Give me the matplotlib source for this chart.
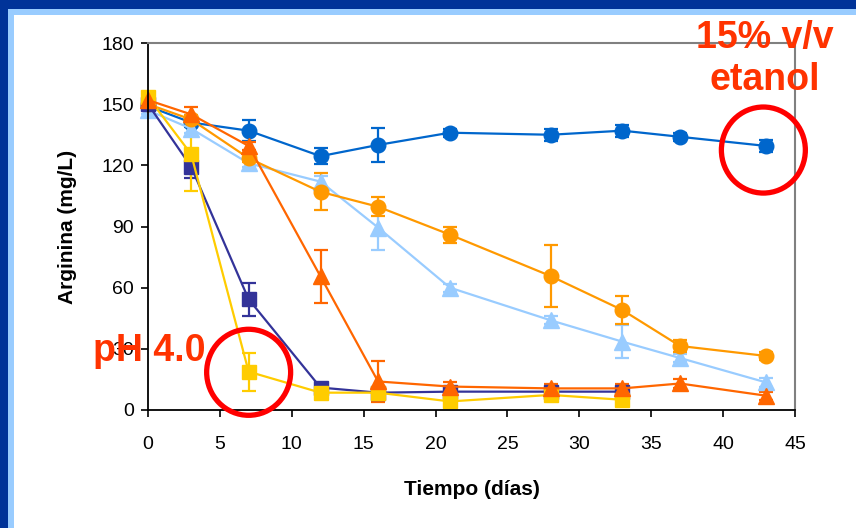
import matplotlib
matplotlib.use("Agg")
import matplotlib.pyplot as plt
from matplotlib.patches import Rectangle, Ellipse

plt.rcParams['font.family'] = ['Liberation Sans', 'DejaVu Sans']

# Time in days
dias = [0, 3, 7, 12, 16, 21, 28, 33, 37, 43]
dias_cortos = [0, 3, 7, 12, 16, 21, 28, 33]

# Arginine (mg/L) and standard deviations per condition
etanol15 = [149, 141, 137, 124.5, 130, 136, 135, 137, 134, 129.5]
etanol15_err = [2, 2, 5, 4, 8.5, 2, 3, 3, 2, 3]

celeste = [147, 138, 121, 112, 89.5, 60, 44, 33.5, 25.5, 13.5]
celeste_err = [2, 2, 2, 3, 11, 2, 2, 8, 2, 2]

naranja = [150, 142.5, 123.5, 107, 99.7, 86, 65.7, 49, 31.4, 26.5]
naranja_err = [2, 2, 2, 9, 4.7, 4, 15, 7, 3, 2]

rojo = [152, 145, 129.5, 65.5, 14, 11.5, 10.6, 10.6, 13, 7]
rojo_err = [2, 3.5, 2, 13, 10, 2, 2, 2, 2, 2]

azul_osc = [150, 119.3, 54.3, 11, 8.5, 9, 9, 9]
azul_osc_err = [2, 5.5, 8, 2, 1, 1, 1, 1]

ph40 = [153.5, 125.5, 18.8, 8.5, 8.5, 4.2, 7.4, 5]
ph40_err = [2, 18, 9.3, 1, 1, 1, 1, 1]

yticks = [0, 30, 60, 90, 120, 150, 180]
xticks = [0, 5, 10, 15, 20, 25, 30, 35, 40, 45]

W, H = 856, 528
fig = plt.figure(figsize=(W / 100, H / 100), dpi=100)

# Slide background frame
fig.patches.append(Rectangle((0, 0), 1, 1, transform=fig.transFigure,
                             facecolor='#003399', edgecolor='none', zorder=-3))
fig.patches.append(Rectangle((8 / W, 0), 1, 1 - 9 / H, transform=fig.transFigure,
                             facecolor='#99CCFF', edgecolor='none', zorder=-2))
fig.patches.append(Rectangle((14 / W, 0), 1, 1 - 15 / H, transform=fig.transFigure,
                             facecolor='white', edgecolor='none', zorder=-1))

ax = fig.add_axes([148 / W, 1 - 410 / H, (795 - 148) / W, (410 - 43) / H])
ax.set_facecolor('none')

series = [
    (dias, etanol15, etanol15_err, '#0066CC', 'o', 10.5),
    (dias, celeste, celeste_err, '#99CCFF', '^', 11),
    (dias, naranja, naranja_err, '#FF9900', 'o', 10.5),
    (dias_cortos, azul_osc, azul_osc_err, '#333399', 's', 10),
    (dias_cortos, ph40, ph40_err, '#FFCC00', 's', 10),
    (dias, rojo, rojo_err, '#FF6600', '^', 11),
]
for x, y, e, c, m, ms in series:
    ax.errorbar(x, y, yerr=e, color=c, ecolor=c, marker=m, markersize=ms,
                markeredgecolor=c, markerfacecolor=c, linewidth=1.6,
                elinewidth=1.6, capsize=5, capthick=1.6, clip_on=False)

ax.set_xlim(0, 45)
ax.set_ylim(0, 180)
ax.set_xticks(xticks)
ax.set_yticks(yticks)
ax.tick_params(axis='both', direction='out', length=5, width=1.2,
               colors='black', labelsize=14)
ax.tick_params(axis='x', pad=14)
ax.tick_params(axis='y', pad=5)

for side in ('left', 'bottom'):
    ax.spines[side].set_color('black')
    ax.spines[side].set_linewidth(1.3)
for side in ('top', 'right'):
    ax.spines[side].set_color('#808080')
    ax.spines[side].set_linewidth(1.5)

ax.set_xlabel('Tiempo (días)', fontsize=15, fontweight='bold')
ax.set_ylabel('Arginina (mg/L)', fontsize=15, fontweight='bold')
ax.xaxis.set_label_coords(0.5, -0.19)
ax.yaxis.set_label_coords(-0.11, 0.5)

# Highlight circles
for cx, cy in [(7, 18.5), (42.8, 127.5)]:
    ax.add_patch(Ellipse((cx, cy), 5.84, 42.2, fill=False, edgecolor='#FF0000',
                         linewidth=3.8, clip_on=False, zorder=10))

txt = dict(color='#FF3300', fontsize=27, fontweight='bold', ha='center',
           va='center', zorder=11)
fig.text(765 / W, 1 - 38 / H, '15% v/v', **txt)
fig.text(765 / W, 1 - 80 / H, 'etanol', **txt)
fig.text(149 / W, 1 - 351 / H, 'pH 4.0', **txt)

fig.savefig('out.png', dpi=100)
